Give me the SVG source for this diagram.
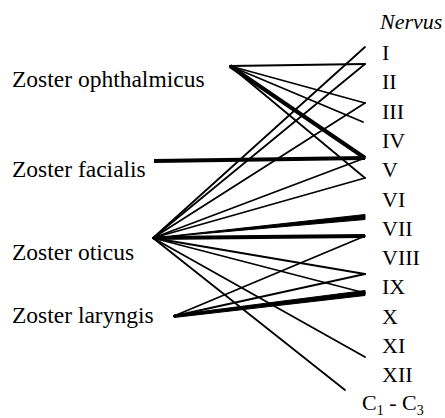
<svg xmlns="http://www.w3.org/2000/svg" width="445" height="418" viewBox="0 0 445 418">
  <style>
    text { font-family: "Liberation Serif", "Times New Roman", Times, serif; fill: #000; }
    .zoster { font-size: 23.5px; }
    .nerve { font-size: 22px; }
    .thin { stroke: #000; stroke-width: 1.8; fill: none; stroke-linecap: round; }
    .thick { stroke: #000; stroke-width: 4; fill: none; stroke-linecap: butt; }
    .wedge { fill: #000; stroke: #000; stroke-width: 1; stroke-linejoin: round; }
  </style>
  <rect width="445" height="418" fill="#fff"/>

  <!-- connectors: zoster type -> affected nerve -->
  <g id="connectors">
    <!-- Zoster ophthalmicus -->
    <line class="thin" x1="230" y1="66" x2="365" y2="64"/>
    <line class="thin" x1="230" y1="66" x2="365" y2="103"/>
    <line class="thin" x1="230" y1="66" x2="363" y2="122"/>
    <line class="thick" x1="230" y1="66" x2="365" y2="158"/>
    <line class="thin" x1="230" y1="66" x2="365" y2="178"/>
    <!-- Zoster facialis -->
    <line class="thick" x1="154" y1="161" x2="365" y2="158"/>
    <!-- Zoster oticus -->
    <line class="thin" x1="153" y1="238" x2="365" y2="47"/>
    <line class="thin" x1="153" y1="238" x2="365" y2="64"/>
    <line class="thin" x1="153" y1="238" x2="365" y2="103"/>
    <line class="thin" x1="153" y1="238" x2="365" y2="158"/>
    <line class="thin" x1="153" y1="238" x2="365" y2="178"/>
    <polygon class="wedge" points="153,238 365,214.5 365,219.5"/>
    <line class="thick" x1="153" y1="238" x2="365" y2="236" stroke-width="4.5"/>
    <line class="thin" x1="153" y1="238" x2="365" y2="274"/>
    <line class="thin" x1="153" y1="238" x2="365" y2="293"/>
    <line class="thin" x1="153" y1="238" x2="365" y2="357"/>
    <line class="thin" x1="153" y1="238" x2="345" y2="390"/>
    <!-- Zoster laryngis -->
    <line class="thin" x1="174" y1="316" x2="365" y2="236"/>
    <line class="thin" x1="174" y1="316" x2="365" y2="274"/>
    <polygon class="wedge" points="174,315 365,290.5 365,295.5 174,317.5"/>
  </g>

  <!-- zoster types -->
  <g id="zoster-ophthalmicus"><text class="zoster" x="12" y="87">Zoster ophthalmicus</text></g>
  <g id="zoster-facialis"><text class="zoster" x="12" y="177">Zoster facialis</text></g>
  <g id="zoster-oticus"><text class="zoster" x="12" y="260">Zoster oticus</text></g>
  <g id="zoster-laryngis"><text class="zoster" x="12" y="323">Zoster laryngis</text></g>

  <!-- nerves -->
  <g id="nervus-heading"><text class="nerve" x="380" y="29" font-style="italic">Nervus</text></g>
  <g id="nerve-I"><text class="nerve" x="382" y="60">I</text></g>
  <g id="nerve-II"><text class="nerve" x="382" y="89.3">II</text></g>
  <g id="nerve-III"><text class="nerve" x="382" y="118.6">III</text></g>
  <g id="nerve-IV"><text class="nerve" x="382" y="147.9">IV</text></g>
  <g id="nerve-V"><text class="nerve" x="382" y="177.2">V</text></g>
  <g id="nerve-VI"><text class="nerve" x="382" y="206.5">VI</text></g>
  <g id="nerve-VII"><text class="nerve" x="382" y="235.8">VII</text></g>
  <g id="nerve-VIII"><text class="nerve" x="382" y="265.1">VIII</text></g>
  <g id="nerve-IX"><text class="nerve" x="382" y="294.4">IX</text></g>
  <g id="nerve-X"><text class="nerve" x="382" y="323.7">X</text></g>
  <g id="nerve-XI"><text class="nerve" x="382" y="353">XI</text></g>
  <g id="nerve-XII"><text class="nerve" x="382" y="382.3">XII</text></g>
  <g id="nerve-C1-C3"><text class="nerve" x="362" y="410">C<tspan font-size="14" dy="5">1</tspan><tspan dy="-5"> - C</tspan><tspan font-size="14" dy="5">3</tspan></text></g>
</svg>
